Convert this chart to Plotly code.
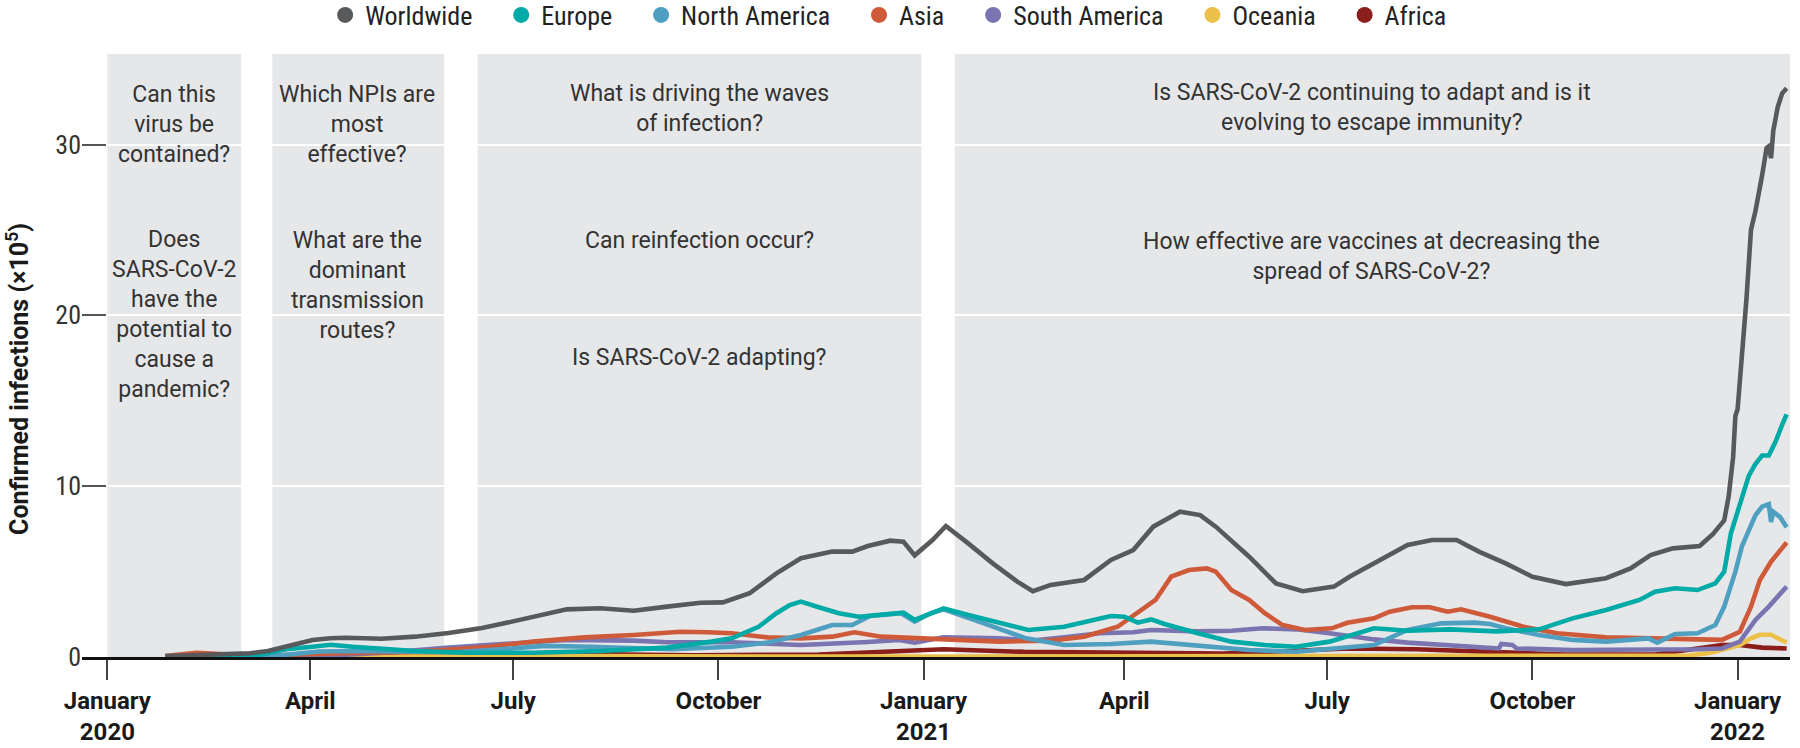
import plotly.graph_objects as go

# ---------------- data (confirmed infections, x10^5) ----------------
WORLDWIDE_DATES = ["2020-01-27","2020-02-15","2020-03-05","2020-03-13","2020-03-21","2020-04-02","2020-04-10","2020-04-17",
    "2020-05-03","2020-05-18","2020-06-02","2020-06-17","2020-06-28","2020-07-10","2020-07-25","2020-08-09","2020-08-24",
    "2020-09-08","2020-09-23","2020-10-03","2020-10-15","2020-10-27","2020-11-07","2020-11-21","2020-11-30","2020-12-07",
    "2020-12-17","2020-12-23","2020-12-28","2021-01-05","2021-01-11","2021-01-21","2021-02-01","2021-02-12","2021-02-19",
    "2021-02-27","2021-03-14","2021-03-26","2021-04-05","2021-04-14","2021-04-26","2021-05-05","2021-05-12","2021-05-27",
    "2021-06-08","2021-06-20","2021-07-04","2021-07-11","2021-07-22","2021-08-06","2021-08-17","2021-08-28","2021-09-07",
    "2021-09-19","2021-10-01","2021-10-16","2021-11-03","2021-11-14","2021-11-23","2021-12-03","2021-12-15","2021-12-21",
    "2021-12-26","2021-12-28","2021-12-30","2021-12-31","2022-01-01","2022-01-03","2022-01-05","2022-01-07","2022-01-09",
    "2022-01-12","2022-01-14","2022-01-15","2022-01-16","2022-01-17","2022-01-19","2022-01-21","2022-01-23"]
WORLDWIDE = [0.05,0.12,0.22,0.35,0.6,1.0,1.1,1.13,
    1.07,1.19,1.4,1.7,2.0,2.36,2.79,2.85,2.71,
    2.95,3.18,3.2,3.73,4.9,5.78,6.17,6.17,6.5,
    6.81,6.75,5.95,6.85,7.67,6.65,5.48,4.41,3.85,
    4.22,4.51,5.68,6.26,7.63,8.51,8.31,7.63,5.87,
    4.31,3.85,4.12,4.7,5.48,6.56,6.85,6.85,6.17,
    5.48,4.7,4.27,4.61,5.19,5.97,6.36,6.5,7.2,
    8.0,9.4,11.7,14.1,14.5,17.6,21.0,25.0,26.1,
    28.2,29.8,29.9,29.2,30.8,32.2,33.0,33.3]

EUROPE_DATES = ["2020-01-27","2020-02-25","2020-03-10","2020-03-21","2020-04-02","2020-04-10","2020-04-20","2020-05-03",
    "2020-05-18","2020-06-10","2020-07-10","2020-08-09","2020-09-08","2020-09-28","2020-10-07","2020-10-19","2020-10-27",
    "2020-11-02","2020-11-07","2020-11-15","2020-11-24","2020-12-03","2020-12-18","2020-12-23","2020-12-28","2021-01-04",
    "2021-01-10","2021-01-21","2021-02-04","2021-02-17","2021-03-05","2021-03-26","2021-04-01","2021-04-07","2021-04-13",
    "2021-04-19","2021-05-04","2021-05-19","2021-06-03","2021-06-17","2021-07-02","2021-07-09","2021-07-22","2021-08-06",
    "2021-08-25","2021-09-15","2021-10-04","2021-10-19","2021-11-03","2021-11-18","2021-11-25","2021-12-04","2021-12-14",
    "2021-12-22","2021-12-26","2021-12-29","2022-01-01","2022-01-04","2022-01-06","2022-01-09","2022-01-12","2022-01-15",
    "2022-01-18","2022-01-21","2022-01-23"]
EUROPE = [0.0,0.02,0.15,0.45,0.6,0.72,0.6,0.5,
    0.35,0.25,0.25,0.35,0.55,0.9,1.09,1.77,2.56,
    3.04,3.24,2.91,2.56,2.36,2.52,2.6,2.17,2.56,
    2.85,2.46,1.97,1.58,1.77,2.4,2.36,2.01,2.2,
    1.93,1.39,0.9,0.7,0.6,0.9,1.15,1.68,1.54,
    1.62,1.5,1.62,2.26,2.75,3.34,3.82,4.02,3.92,
    4.31,5.0,7.24,8.5,9.6,10.6,11.3,11.8,11.8,
    12.6,13.6,14.2]

NORTH_AMERICA_DATES = ["2020-01-27","2020-03-05","2020-03-20","2020-04-05","2020-04-20","2020-05-10","2020-06-05",
    "2020-06-25","2020-07-15","2020-08-05","2020-09-10","2020-10-07","2020-10-23","2020-11-07","2020-11-21","2020-11-30",
    "2020-12-08","2020-12-22","2020-12-28","2021-01-04","2021-01-10","2021-01-28","2021-02-16","2021-03-05","2021-03-26",
    "2021-04-13","2021-05-04","2021-05-27","2021-06-17","2021-07-06","2021-07-22","2021-08-06","2021-08-21","2021-09-05",
    "2021-09-12","2021-09-19","2021-10-04","2021-10-19","2021-11-03","2021-11-22","2021-11-26","2021-12-04","2021-12-14",
    "2021-12-22","2021-12-26","2021-12-31","2022-01-03","2022-01-06","2022-01-09","2022-01-12","2022-01-15","2022-01-16",
    "2022-01-17","2022-01-20","2022-01-23"]
NORTH_AMERICA = [0.0,0.01,0.12,0.32,0.35,0.3,0.28,
    0.45,0.65,0.6,0.45,0.6,0.84,1.29,1.87,1.87,
    2.4,2.56,2.07,2.56,2.79,1.97,1.09,0.7,0.76,
    0.9,0.64,0.41,0.31,0.5,0.7,1.58,1.97,2.01,
    1.93,1.68,1.29,1.0,0.9,1.09,0.84,1.35,1.39,
    1.87,2.95,5.0,6.5,7.4,8.3,8.8,8.95,7.9,
    8.5,8.2,7.6]

ASIA_DATES = ["2020-01-27","2020-02-10","2020-02-25","2020-03-20","2020-04-15","2020-05-15","2020-06-05","2020-06-20",
    "2020-07-10","2020-08-02","2020-08-24","2020-09-14","2020-09-26","2020-10-07","2020-10-23","2020-11-07","2020-11-21",
    "2020-12-01","2020-12-13","2020-12-25","2021-01-05","2021-02-04","2021-02-27","2021-03-14","2021-03-29","2021-04-07",
    "2021-04-15","2021-04-22","2021-04-30","2021-05-08","2021-05-12","2021-05-19","2021-05-27","2021-06-03","2021-06-11",
    "2021-06-21","2021-07-03","2021-07-10","2021-07-22","2021-07-29","2021-08-08","2021-08-16","2021-08-24","2021-08-30",
    "2021-09-12","2021-09-27","2021-10-12","2021-11-03","2021-12-03","2021-12-25","2022-01-02","2022-01-07","2022-01-11",
    "2022-01-16","2022-01-23"]
ASIA = [0.05,0.25,0.15,0.12,0.22,0.3,0.45,0.6,
    0.9,1.15,1.29,1.48,1.45,1.39,1.15,1.09,1.19,
    1.45,1.19,1.12,1.03,0.9,0.96,1.19,1.77,2.56,
    3.34,4.7,5.09,5.19,5.0,3.92,3.34,2.56,1.87,
    1.58,1.68,2.0,2.26,2.65,2.91,2.91,2.65,2.79,
    2.36,1.77,1.39,1.15,1.05,1.0,1.48,2.95,4.51,
    5.58,6.7]

SOUTH_AMERICA_DATES = ["2020-01-27","2020-03-15","2020-04-10","2020-05-10","2020-06-02","2020-07-04","2020-07-25",
    "2020-08-24","2020-09-08","2020-10-07","2020-11-07","2020-12-07","2020-12-21","2020-12-28","2021-01-10","2021-02-04",
    "2021-02-19","2021-03-05","2021-03-21","2021-04-05","2021-04-13","2021-05-04","2021-05-19","2021-06-02","2021-06-17",
    "2021-07-02","2021-07-22","2021-08-06","2021-08-21","2021-09-05","2021-09-16","2021-09-17","2021-09-22","2021-09-24",
    "2021-10-19","2021-12-14","2021-12-25","2022-01-02","2022-01-09","2022-01-15","2022-01-23"]
SOUTH_AMERICA = [0.0,0.0,0.08,0.3,0.55,0.8,1.0,
    0.96,0.86,0.86,0.7,0.88,1.0,0.84,1.15,1.09,
    0.96,1.15,1.39,1.45,1.58,1.5,1.54,1.68,1.62,
    1.39,1.03,0.84,0.7,0.56,0.5,0.76,0.7,0.5,
    0.41,0.45,0.5,0.9,2.17,2.95,4.12]

OCEANIA_DATES = ["2020-01-27","2020-04-01","2020-08-01","2020-12-01","2021-06-01","2021-09-01","2021-12-10","2021-12-20",
    "2021-12-25","2022-01-02","2022-01-07","2022-01-11","2022-01-16","2022-01-19","2022-01-23"]
OCEANIA = [0.0,0.02,0.05,0.02,0.02,0.05,0.08,0.25,
    0.41,0.7,1.09,1.3,1.3,1.09,0.85]

AFRICA_DATES = ["2020-01-27","2020-04-01","2020-05-15","2020-06-15","2020-07-20","2020-08-20","2020-09-20","2020-11-15",
    "2020-12-20","2021-01-10","2021-02-15","2021-04-01","2021-05-15","2021-06-15","2021-07-10","2021-08-10","2021-09-15",
    "2021-10-15","2021-11-25","2021-12-14","2021-12-25","2022-01-02","2022-01-12","2022-01-23"]
AFRICA = [0.0,0.01,0.05,0.15,0.25,0.15,0.1,0.15,
    0.3,0.45,0.3,0.22,0.2,0.35,0.5,0.45,0.3,
    0.15,0.15,0.5,0.7,0.7,0.55,0.5]

SERIES_NAMES = ["Worldwide", "Europe", "North America", "Asia", "South America", "Oceania", "Africa"]

X_TICK_VALUES = ["2020-01-01","2020-04-01","2020-07-01","2020-10-01","2021-01-01","2021-04-01","2021-07-01","2021-10-01","2022-01-01"]
X_TICK_LABELS = ["January<br>2020","April","July","October","January<br>2021","April","July","October","January<br>2022"]
Y_TICK_VALUES = [0, 10, 20, 30]

PERIOD_STARTS = ["2020-01-01", "2020-03-15", "2020-06-15", "2021-01-15"]
PERIOD_ENDS = ["2020-03-01", "2020-05-31", "2020-12-31", "2022-01-24 12:00"]

QUESTIONS = [
    ("2020-01-31", 31.2, "Can this<br>virus be<br>contained?"),
    ("2020-01-31", 20.05, "Does<br>SARS-CoV-2<br>have the<br>potential to<br>cause a<br>pandemic?"),
    ("2020-04-22", 31.2, "Which NPIs are<br>most<br>effective?"),
    ("2020-04-22", 21.74, "What are the<br>dominant<br>transmission<br>routes?"),
    ("2020-09-22 12:00", 32.1, "What is driving the waves<br>of infection?"),
    ("2020-09-22 12:00", 24.36, "Can reinfection occur?"),
    ("2020-09-22 12:00", 17.56, "Is SARS-CoV-2 adapting?"),
    ("2021-07-21", 32.17, "Is SARS-CoV-2 continuing to adapt and is it<br>evolving to escape immunity?"),
    ("2021-07-21", 23.45, "How effective are vaccines at decreasing the<br>spread of SARS-CoV-2?"),
]

# ---------------- styling ----------------
COLORS = {
    "Worldwide": "#58595b",
    "Europe": "#00aaa6",
    "North America": "#4f9fc0",
    "Asia": "#cf5a3a",
    "South America": "#7a74b1",
    "Oceania": "#ebc14a",
    "Africa": "#8b1d1a",
}
DATA = {
    "Worldwide": (WORLDWIDE_DATES, WORLDWIDE),
    "Europe": (EUROPE_DATES, EUROPE),
    "North America": (NORTH_AMERICA_DATES, NORTH_AMERICA),
    "Asia": (ASIA_DATES, ASIA),
    "South America": (SOUTH_AMERICA_DATES, SOUTH_AMERICA),
    "Oceania": (OCEANIA_DATES, OCEANIA),
    "Africa": (AFRICA_DATES, AFRICA),
}

NARROW = "Liberation Sans Narrow, Arial Narrow, Roboto Condensed, Roboto, sans-serif"
BOLD = "Roboto, Arial, sans-serif"

fig = go.Figure()

# lines (drawn back to front, worldwide on top)
for name in reversed(SERIES_NAMES):
    xs, ys = DATA[name]
    fig.add_trace(go.Scatter(
        x=xs, y=ys, mode="lines", name=name, showlegend=False,
        line=dict(color=COLORS[name], width=4.6), hoverinfo="skip"))

# legend entries with circle symbols
for name in SERIES_NAMES:
    fig.add_trace(go.Scatter(
        x=[None], y=[None], mode="markers", name=name + "\u00a0\u00a0\u00a0\u00a0",
        marker=dict(color=COLORS[name], size=18), showlegend=True))

shapes = []
for x0, x1 in zip(PERIOD_STARTS, PERIOD_ENDS):
    shapes.append(dict(type="rect", xref="x", yref="paper", x0=x0, x1=x1, y0=0, y1=1,
                       fillcolor="#e6e7e9", line=dict(width=0), layer="below"))

annotations = []
for x, y, txt in QUESTIONS:
    annotations.append(dict(x=x, y=y, xref="x", yref="y", text=txt, showarrow=False,
                            xanchor="center", yanchor="middle", align="center",
                            font=dict(family="Roboto, sans-serif", size=23, color="#333333")))

annotations.append(dict(x=-0.0375, y=0.461, xref="paper", yref="paper",
                        text="Confirmed infections (×10<sup>5</sup>)", textangle=-90,
                        showarrow=False, xanchor="center", yanchor="middle",
                        font=dict(family=BOLD, size=25, color="#1a1a1a", weight="bold")))

fig.update_layout(
    width=1800, height=748,
    margin=dict(l=82, r=10, t=54, b=91, autoexpand=False),
    paper_bgcolor="white", plot_bgcolor="white",
    shapes=shapes, annotations=annotations,
    legend=dict(orientation="h", x=0.479, xanchor="center", y=1.0647, yanchor="middle",
                font=dict(family=NARROW, size=26, color="#222222"),
                traceorder="normal", itemsizing="trace", bgcolor="rgba(0,0,0,0)"),
    xaxis=dict(type="date", range=["2019-12-20 15:00", "2022-01-24 12:00"],
               tickmode="array", tickvals=X_TICK_VALUES, ticktext=X_TICK_LABELS,
               ticks="outside", ticklen=20, tickwidth=1.5, tickcolor="#444444",
               showgrid=False, zeroline=False,
               showline=True, linecolor="#111111", linewidth=3,
               tickfont=dict(family=BOLD, size=24, color="#1a1a1a", weight="bold")),
    yaxis=dict(range=[0, 35.3], tickmode="array", tickvals=Y_TICK_VALUES,
               ticks="inside", ticklen=24, tickwidth=1.5, tickcolor="#555555",
               showgrid=True, gridcolor="#ffffff", gridwidth=2,
               zeroline=False, showline=False,
               tickfont=dict(family=NARROW, size=26, color="#333333")),
)

fig.write_html("out.html",
               config={"displayModeBar": False},
               post_script="document.body.style.margin='0';document.body.style.overflow='hidden';")
